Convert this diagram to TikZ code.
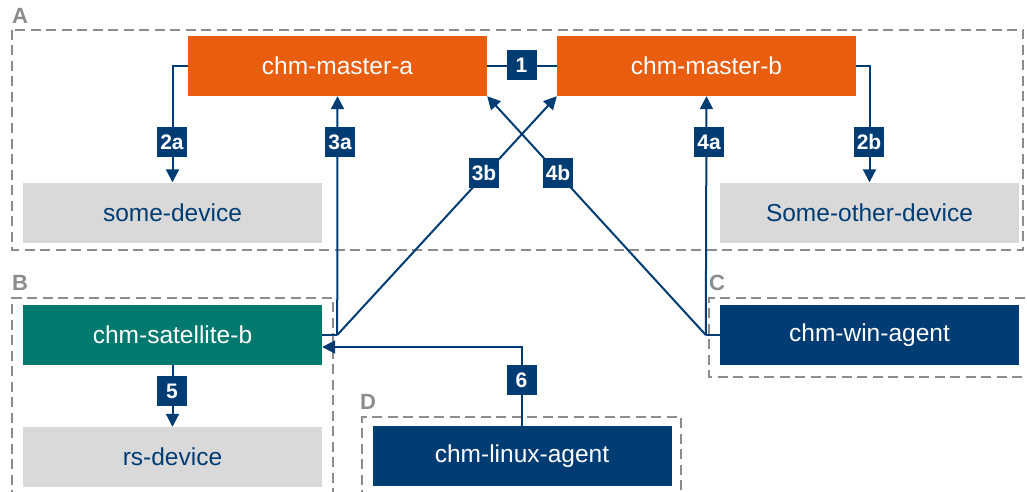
\documentclass[tikz,border=0pt]{standalone}
\usepackage{fontspec}
\setmainfont{Liberation Sans}
\usetikzlibrary{arrows.meta}
\definecolor{orangebox}{HTML}{E85D0E}
\definecolor{navy}{HTML}{003C74}
\definecolor{teal}{HTML}{00796E}
\definecolor{lightgray}{HTML}{D9D9D9}
\definecolor{groupgray}{HTML}{8C8C8C}
\tikzset{
  box/.style={draw=none, minimum width=299pt, minimum height=60pt, inner sep=0pt,
    font=\fontsize{24.5}{28}\selectfont},
  master/.style={box, fill=orangebox, text=white},
  device/.style={box, fill=lightgray, text=navy},
  satellite/.style={box, fill=teal, text=white},
  agent/.style={box, fill=navy, text=white},
  badge/.style={fill=navy, text=white, minimum size=30pt, inner sep=0pt,
    font=\fontsize{21}{22}\bfseries\selectfont},
  group/.style={draw=groupgray, line width=2.8pt, dash pattern=on 10pt off 5.5pt},
  grouplabel/.style={text=groupgray, font=\fontsize{22}{24}\bfseries\selectfont, inner sep=0pt},
  link/.style={draw=navy, line width=2pt},
  flow/.style={link, -{Triangle[length=13pt,width=13pt]}},
}
\begin{document}
\begin{tikzpicture}[x=1pt, y=-1pt]
\useasboundingbox (0,0) rectangle (1027,492);

% groups
\draw[group] (12,30) rectangle (1023,250);
\draw[group] (12,500) -- (12,298) -- (333,298) -- (333,500);
\draw[group] (1040,298) -- (709,298) -- (709,377) -- (1040,377);
\draw[group] (362,500) -- (362,417) -- (681,417) -- (681,500);
\node[grouplabel] (lblA) at (20,16) {A};
\node[grouplabel] (lblB) at (20,283) {B};
\node[grouplabel] (lblC) at (717,283) {C};
\node[grouplabel] (lblD) at (368,402) {D};

% nodes
\node[master] (ma) at (337.5,66) {chm-master-a};
\node[master] (mb) at (706.5,66) {chm-master-b};
\node[device] (sd) at (172.5,212.5) {some-device};
\node[device] (sod) at (869.5,212.5) {Some-other-device};
\node[satellite] (sat) at (172.5,335) {chm-satellite-b};
\node[device] (rs) at (172.5,457) {rs-device};
\node[agent] (win) at (869.5,335) {chm-win-agent};
\node[agent] (lin) at (522,456) {chm-linux-agent};

% junction points
\coordinate (j3) at ([xshift=15pt]sat.east);
\coordinate (j4) at ([xshift=-14pt]win.west);
\coordinate (j6) at (lin.north |- 0,347);

% connectors
\draw[link] (ma.east) -- (mb.west);
\draw[flow] (ma.west) -| (sd.north);
\draw[flow] (mb.east) -| (sod.north);
\draw[link] (sat.east) -- (j3);
\draw[flow] (j3) -- (ma.south);
\draw[flow] (j3) -- (mb.south west);
\draw[link] (win.west) -- (j4);
\draw[flow] (j4) -- (mb.south);
\draw[flow] (j4) -- (ma.south east);
\draw[flow] (sat.south) -- (rs.north);
\draw[flow] (lin.north) -- (j6) -- (sat.east |- j6);

% step badges
\node[badge] (b1) at (521.5,65) {1};
\node[badge] (b2a) at (172,142) {2a};
\node[badge] (b2b) at (869,142) {2b};
\node[badge] (b3a) at (340,142) {3a};
\node[badge] (b3b) at (484,173) {3b};
\node[badge] (b4a) at (709,142) {4a};
\node[badge] (b4b) at (558,173) {4b};
\node[badge] (b5) at (172,391) {5};
\node[badge] (b6) at (521.5,380) {6};
\end{tikzpicture}
\end{document}
